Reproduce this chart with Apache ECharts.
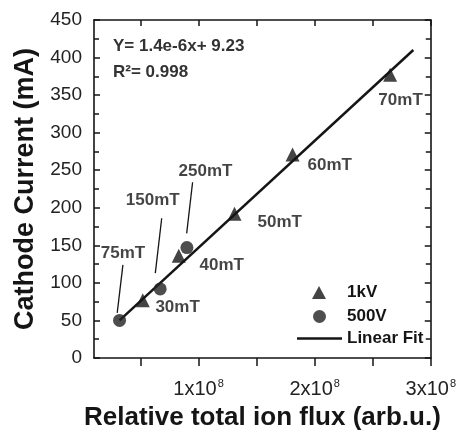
<!DOCTYPE html>
<html>
<head>
<meta charset="utf-8">
<script src="https://cdn.jsdelivr.net/npm/echarts@6/dist/echarts.min.js"></script>
<style>html,body{margin:0;padding:0;background:#fff}#c{width:459px;height:442px}</style>
</head>
<body>
<div id="c"></div>
<script>
// ---- data ----
const series1kV = [[5.2e7, 77], [8.3e7, 136], [1.31e8, 192], [1.81e8, 271], [2.65e8, 377]];
const series500V = [[3.2e7, 50], [6.7e7, 92], [9.0e7, 147]];
const fitLine = [[3.2e7, 50], [2.85e8, 410]];
const xTickValues = [5e7, 1e8, 1.5e8, 2e8, 2.5e8, 3e8];
const xLabelValues = [1e8, 2e8, 3e8];
const pointLabels = [
  {name: '70mT', value: [2.74e8, 343]},
  {name: '60mT', value: [2.13e8, 256]},
  {name: '50mT', value: [1.70e8, 181]},
  {name: '40mT', value: [1.20e8, 124]},
  {name: '30mT', value: [8.2e7, 68]},
  {name: '75mT', value: [3.5e7, 140]},
  {name: '150mT', value: [6.06e7, 210]},
  {name: '250mT', value: [1.06e8, 248]}
];
const arrows = [
  [[3.49e7, 124], [3.0e7, 60]],
  [[6.83e7, 186], [6.28e7, 113]],
  [[9.49e7, 234], [8.98e7, 166]]
];

const INK = '#151515';
const FONT = '"Liberation Sans", Arial, sans-serif';
const legendText = {fontFamily: FONT, fontWeight: 'bold', fontSize: 17, color: INK, lineHeight: 14};

const chart = echarts.init(document.getElementById('c'));
chart.setOption({
  animation: false,
  backgroundColor: '#fff',
  grid: {left: 94, top: 20, right: 27, bottom: 84, containLabel: false},
  xAxis: [{
    type: 'value', min: 1e7, max: 3e8, position: 'bottom',
    name: 'Relative total ion flux (arb.u.)', nameLocation: 'middle', nameGap: 44,
    nameTextStyle: {fontFamily: FONT, fontWeight: 'bold', fontSize: 26, color: INK},
    axisLine: {show: true, onZero: false, lineStyle: {color: INK, width: 1.6}},
    axisTick: {show: true, inside: false, length: 8, customValues: xTickValues, lineStyle: {color: INK, width: 1.5}},
    axisLabel: {
      show: true, customValues: xLabelValues, margin: 20,
      formatter: v => '{b|' + Math.round(v / 1e8) + 'x10}{s|8}',
      rich: {
        b: {fontFamily: FONT, fontSize: 20, color: '#222'},
        s: {fontFamily: FONT, fontSize: 11, color: '#222', padding: [0, 0, 12, 1]}
      }
    },
    splitLine: {show: false}
  }, {
    type: 'value', min: 1e7, max: 3e8, position: 'top',
    axisLine: {show: true, onZero: false, lineStyle: {color: INK, width: 1.6}},
    axisTick: {show: true, inside: true, length: 6, customValues: xTickValues, lineStyle: {color: INK, width: 1.5}},
    axisLabel: {show: false},
    splitLine: {show: false}
  }],
  yAxis: [{
    type: 'value', min: 0, max: 450, interval: 50, position: 'left',
    name: 'Cathode Current (mA)', nameLocation: 'middle', nameGap: 54,
    nameTextStyle: {fontFamily: FONT, fontWeight: 'bold', fontSize: 27, color: INK},
    axisLine: {show: true, onZero: false, lineStyle: {color: INK, width: 1.6}},
    axisTick: {show: true, inside: true, length: 6, lineStyle: {color: INK, width: 1.5}},
    minorTick: {show: true, splitNumber: 2, length: 5, lineStyle: {color: INK, width: 1.5}},
    axisLabel: {fontFamily: FONT, fontSize: 19, color: '#222', margin: 12},
    splitLine: {show: false}, minorSplitLine: {show: false}
  }, {
    type: 'value', min: 0, max: 450, interval: 50, position: 'right',
    axisLine: {show: true, onZero: false, lineStyle: {color: INK, width: 1.6}},
    axisTick: {show: true, inside: true, length: 6, lineStyle: {color: INK, width: 1.5}},
    minorTick: {show: true, splitNumber: 2, length: 5, lineStyle: {color: INK, width: 1.5}},
    axisLabel: {show: false},
    splitLine: {show: false}, minorSplitLine: {show: false}
  }],
  legend: [{
    orient: 'vertical', left: 312, top: 284, padding: 0,
    itemWidth: 14, itemHeight: 13,
    textStyle: Object.assign({padding: [0, 0, 0, 16]}, legendText),
    data: [{name: '1kV', icon: 'triangle'}]
  }, {
    orient: 'vertical', left: 313, top: 308, padding: 0,
    itemWidth: 13, itemHeight: 13,
    textStyle: Object.assign({padding: [0, 0, 0, 16]}, legendText),
    data: [{name: '500V', icon: 'circle'}]
  }, {
    orient: 'vertical', left: 297, top: 330, padding: 0,
    itemWidth: 45, itemHeight: 13,
    textStyle: legendText,
    data: [{name: 'Linear Fit', icon: 'path://M0,0 L45,0 L45,2.5 L0,2.5 Z'}]
  }],
  series: [
    {
      name: 'Linear Fit', type: 'line', data: fitLine, symbol: 'none',
      lineStyle: {color: INK, width: 2.5}, itemStyle: {color: INK}, z: 2
    },
    {
      name: '1kV', type: 'scatter', data: series1kV, symbol: 'triangle', symbolSize: 14,
      itemStyle: {color: INK}, z: 3
    },
    {
      name: '500V', type: 'scatter', data: series500V, symbol: 'circle', symbolSize: 13,
      itemStyle: {color: '#222'}, z: 3
    },
    {
      name: 'annotations', type: 'scatter', data: pointLabels, symbolSize: 0, silent: true,
      label: {show: true, position: 'inside', formatter: p => p.name,
        fontFamily: FONT, fontWeight: 'bold', fontSize: 17, color: INK},
      markLine: {
        silent: true, symbol: ['none', 'arrow'], symbolSize: [0, 9],
        lineStyle: {type: 'solid', color: INK, width: 1.3}, label: {show: false},
        data: arrows.map(a => [{coord: a[0]}, {coord: a[1]}])
      },
      z: 4
    }
  ],
  graphic: [
    {type: 'text', left: 113, top: 38, style: {text: 'Y= 1.4e-6x+ 9.23', font: 'bold 17px ' + FONT, fill: '#333'}},
    {type: 'text', left: 113, top: 64, style: {text: 'R²= 0.998', font: 'bold 17px ' + FONT, fill: '#333'}}
  ]
});
</script>
</body>
</html>
